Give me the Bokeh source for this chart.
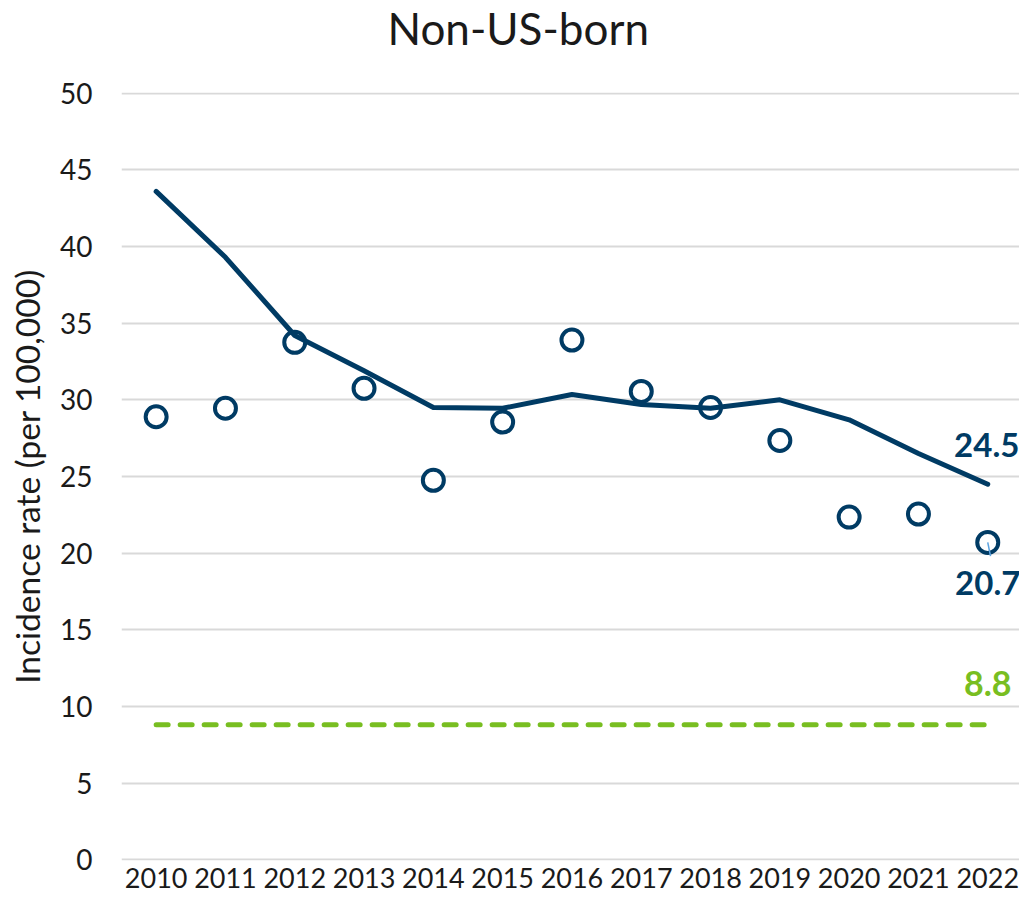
from bokeh.plotting import figure
from bokeh.models import Range1d, FixedTicker, Label, ColumnDataSource, Title
from bokeh.embed import file_html
from bokeh.resources import INLINE

years = [2010, 2011, 2012, 2013, 2014, 2015, 2016, 2017, 2018, 2019, 2020, 2021, 2022]
trend = [43.6, 39.3, 34.2, 31.9, 29.5, 29.45, 30.35, 29.7, 29.45, 30.0, 28.7, 26.5, 24.5]
observed = [28.9, 29.45, 33.75, 30.75, 24.75, 28.55, 33.9, 30.55, 29.5, 27.35, 22.35, 22.55, 20.7]
us_target = [8.8] * len(years)
y_ticks = [0, 5, 10, 15, 20, 25, 30, 35, 40, 45, 50]
title_text = "Non-US-born"
y_label = "Incidence rate (per 100,000)"

NAVY = "#003B64"
GREEN = "#78BE21"
TEXT = "#1a1a1a"
FONT = "Lato"

W, H = 1019, 900
LEFT, TOP, BOTTOM = 121, 92, 40
frame_w = W - LEFT
x_start = 2009.5
px_per_year = 69.3
x_end = x_start + frame_w / px_per_year

p = figure(width=W, height=H, output_backend="svg", toolbar_location=None,
           x_range=Range1d(x_start, x_end), y_range=Range1d(-0.05, 50.05),
           min_border_left=LEFT, min_border_right=0, min_border_top=TOP,
           min_border_bottom=BOTTOM)

# main title (outermost) + an empty spacer title between it and the frame
p.title.text = title_text
p.title.text_font = FONT
p.title.text_font_size = "44px"
p.title.text_font_style = "normal"
p.title.text_color = TEXT
p.title.align = "left"
p.title.offset = 266
p.title.vertical_align = "top"
p.title.standoff = 0
p.add_layout(Title(text=" ", text_font=FONT, text_font_size="10px", standoff=23), "above")

p.outline_line_color = None
p.xgrid.grid_line_color = None
p.ygrid.grid_line_color = "#D9D9D9"
p.ygrid.grid_line_width = 2
p.yaxis.ticker = FixedTicker(ticks=y_ticks)
p.xaxis.ticker = FixedTicker(ticks=years)
p.xaxis.major_label_overrides = {y: str(y) for y in years}

for ax in (p.xaxis[0], p.yaxis[0]):
    ax.axis_line_color = None
    ax.major_tick_line_color = None
    ax.minor_tick_line_color = None
    ax.major_tick_out = 0
    ax.major_tick_in = 0
    ax.major_label_text_font = FONT
    ax.major_label_text_font_size = "28px"
    ax.major_label_text_color = TEXT

p.xaxis.major_label_text_font_size = "27px"
p.xaxis.major_label_standoff = 7
p.yaxis.major_label_standoff = 29
p.yaxis.axis_label = y_label
p.yaxis.axis_label_text_font = FONT
p.yaxis.axis_label_text_font_size = "33.5px"
p.yaxis.axis_label_text_font_style = "normal"
p.yaxis.axis_label_text_color = TEXT
p.yaxis.axis_label_standoff = 10

src = ColumnDataSource(dict(x=years, trend=trend, obs=observed, target=us_target))

p.line("x", "target", source=src, line_color=GREEN, line_width=5,
       line_dash="12 12", line_cap="round")
p.scatter("x", "obs", source=src, marker="circle", size=21, line_color=NAVY,
          line_width=4, fill_color="white")
p.line("x", "trend", source=src, line_color=NAVY, line_width=5, line_cap="round",
       line_join="round")

# leader line from last point to its label
p.segment(x0=[years[-1]], y0=[observed[-1]], x1=[years[-1] + 0.04], y1=[observed[-1] - 0.9],
          line_color="#5BA3E0", line_width=1.5)

labels = [
    (trend[-1], f"{trend[-1]:.1f}", NAVY, 39, -1, "33px"),
    (observed[-1], f"{observed[-1]:.1f}", NAVY, -41, 0, "33px"),
    (us_target[-1], f"{us_target[-1]:.1f}", GREEN, 41, 0, "34px"),
]
for yv, txt, col, yoff, xoff, fs in labels:
    p.add_layout(Label(x=years[-1], y=yv, text=txt, text_color=col,
                       text_font=FONT, text_font_size=fs, text_font_style="bold",
                       text_align="center", text_baseline="middle",
                       x_offset=xoff, y_offset=yoff))

open("out.html", "w").write(file_html(p, INLINE))
